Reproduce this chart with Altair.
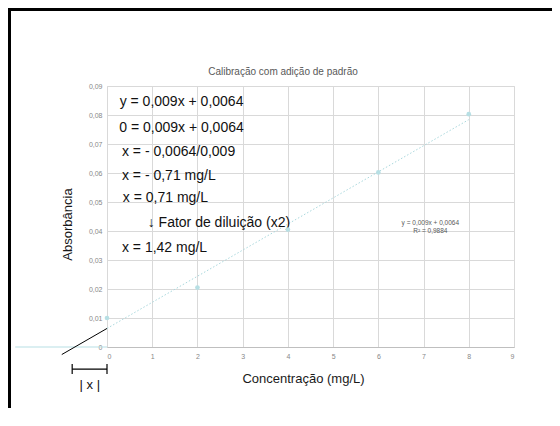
import altair as alt
import pandas as pd

# ---- data ----
conc = [0, 2, 4, 6, 8]
absb = [0.0100, 0.0205, 0.0405, 0.0602, 0.0803]

trend_x = [0, 8]
trend_y = [0.0064, 0.0784]

extrap_x = [-1, 0]
extrap_y = [-0.0026, 0.0064]

base_x = [-2.03, 0]
base_y = [0, 0]

x_ticks = [0, 1, 2, 3, 4, 5, 6, 7, 8, 9]
y_ticks = [0, 0.01, 0.02, 0.03, 0.04, 0.05, 0.06, 0.07, 0.08, 0.09]

notes = ["y = 0,009x + 0,0064", "0 = 0,009x + 0,0064", "x = - 0,0064/0,009",
         "x = - 0,71 mg/L", "x = 0,71 mg/L", "↓ Fator de diluição (x2)", "x = 1,42 mg/L"]
notes_x = [0.28, 0.27, 0.33, 0.33, 0.35, 0.90, 0.33]
notes_y = [0.0844, 0.0754, 0.0671, 0.0588, 0.0515, 0.0429, 0.0343]

eq_lines = ["y = 0,009x + 0,0064", "R² = 0,9884"]
eq_x = [7.15, 7.15]
eq_y = [0.0427, 0.0400]

bracket_x = [-0.77, 0]
bracket_y = [-0.0076, -0.0076]
cap_x = [-0.77, 0]
cap_y1 = [-0.0059, -0.0059]
cap_y2 = [-0.0093, -0.0093]
absx_label = "| x |"
absx_pos = [-0.38, -0.0131]

FONT = "Liberation Sans"
W, H = 407, 261
PL, PT = 99, 78
TOTW, TOTH = 544, 400

xs = alt.Scale(domain=[0, 9], nice=False, zero=False)
ys = alt.Scale(domain=[0, 0.09], nice=False, zero=False)

x_axis = alt.Axis(values=x_ticks, grid=True, gridColor="#d9d9d9", ticks=False,
                  domain=True, domainColor="#bfbfbf", labelFontSize=7, labelColor="#888888",
                  labelFont=FONT, labelPadding=5, title="Concentração (mg/L)",
                  titleFont=FONT, titleFontSize=13, titleFontWeight="normal", titleColor="#1a1a1a",
                  titleX=196, titleY=31, titleBaseline="middle", titleAlign="center")
y_axis = alt.Axis(values=y_ticks, grid=True, gridColor="#d9d9d9", ticks=False, domain=False,
                  labelFontSize=7, labelColor="#888888", labelFont=FONT, labelPadding=5,
                  labelExpr="datum.value == 0 ? '0' : replace(format(datum.value, '.2f'), '.', ',')",
                  title="Absorbância", titleFont=FONT, titleFontSize=13, titleFontWeight="normal",
                  titleColor="#1a1a1a", titleX=-40, titleY=138, titleAngle=-90,
                  titleBaseline="middle", titleAlign="center")


def X():
    return alt.X("x:Q", scale=xs, axis=x_axis)


def Y():
    return alt.Y("y:Q", scale=ys, axis=y_axis)


pts = pd.DataFrame({"x": conc, "y": absb})

base_line = alt.Chart(pd.DataFrame({"x": base_x, "y": base_y})).mark_line(
    color="#b7dfe4", strokeWidth=1).encode(x=X(), y=Y())

trend = alt.Chart(pd.DataFrame({"x": trend_x, "y": trend_y})).mark_line(
    color="#a9d8dd", strokeWidth=1, strokeDash=[1.5, 2]).encode(x=X(), y=Y())

extrap = alt.Chart(pd.DataFrame({"x": extrap_x, "y": extrap_y})).mark_line(
    color="#000000", strokeWidth=1).encode(x=X(), y=Y())

points = alt.Chart(pts).mark_circle(size=22, color="#b7dfe4", opacity=1).encode(x=X(), y=Y())

notes_df = pd.DataFrame({"x": notes_x, "y": notes_y, "t": notes})
notes_layer = alt.Chart(notes_df).mark_text(
    align="left", baseline="middle", font=FONT, fontSize=14, color="#111111").encode(
    x=X(), y=Y(), text="t:N")

eq_df = pd.DataFrame({"x": eq_x, "y": eq_y, "t": eq_lines})
eq_layer = alt.Chart(eq_df).mark_text(
    align="center", baseline="middle", font=FONT, fontSize=6.5, color="#595959").encode(
    x=X(), y=Y(), text="t:N")

br = alt.Chart(pd.DataFrame({"x": [bracket_x[0]], "x2": [bracket_x[1]], "y": [bracket_y[0]]})).mark_rule(
    color="#000000", strokeWidth=1.2).encode(x=X(), x2="x2:Q", y=Y())
caps = alt.Chart(pd.DataFrame({"x": cap_x, "y": cap_y1, "y2": cap_y2})).mark_rule(
    color="#000000", strokeWidth=1.2).encode(x=X(), y=Y(), y2="y2:Q")
absx = alt.Chart(pd.DataFrame({"x": [absx_pos[0]], "y": [absx_pos[1]], "t": [absx_label]})).mark_text(
    align="center", baseline="middle", font=FONT, fontSize=13, color="#111111").encode(
    x=X(), y=Y(), text="t:N")

title = alt.Chart(pd.DataFrame({"t": ["Calibração com adição de padrão"]})).mark_text(
    align="center", baseline="middle", font=FONT, fontSize=10, color="#595959").encode(
    x=alt.value(176), y=alt.value(-14), text="t:N")

frame_top = alt.Chart(pd.DataFrame({"a": [0]})).mark_rule(color="#000000", strokeWidth=3).encode(
    x=alt.value(-PL), x2=alt.value(TOTW - PL), y=alt.value(-PT + 1.5))
frame_left = alt.Chart(pd.DataFrame({"a": [0]})).mark_rule(color="#000000", strokeWidth=3).encode(
    x=alt.value(-PL + 1.5), y=alt.value(-PT), y2=alt.value(TOTH - PT))

chart = alt.layer(base_line, trend, extrap, notes_layer, points, eq_layer,
                  br, caps, absx, title, frame_top, frame_left).properties(
    width=W, height=H,
    autosize=alt.AutoSizeParams(type="none"),
    padding={"left": PL, "top": PT, "right": TOTW - PL - W, "bottom": TOTH - PT - H},
).configure_view(stroke=None).configure(background="white")

chart.save("out.html", embed_options={"renderer": "svg", "actions": False})
